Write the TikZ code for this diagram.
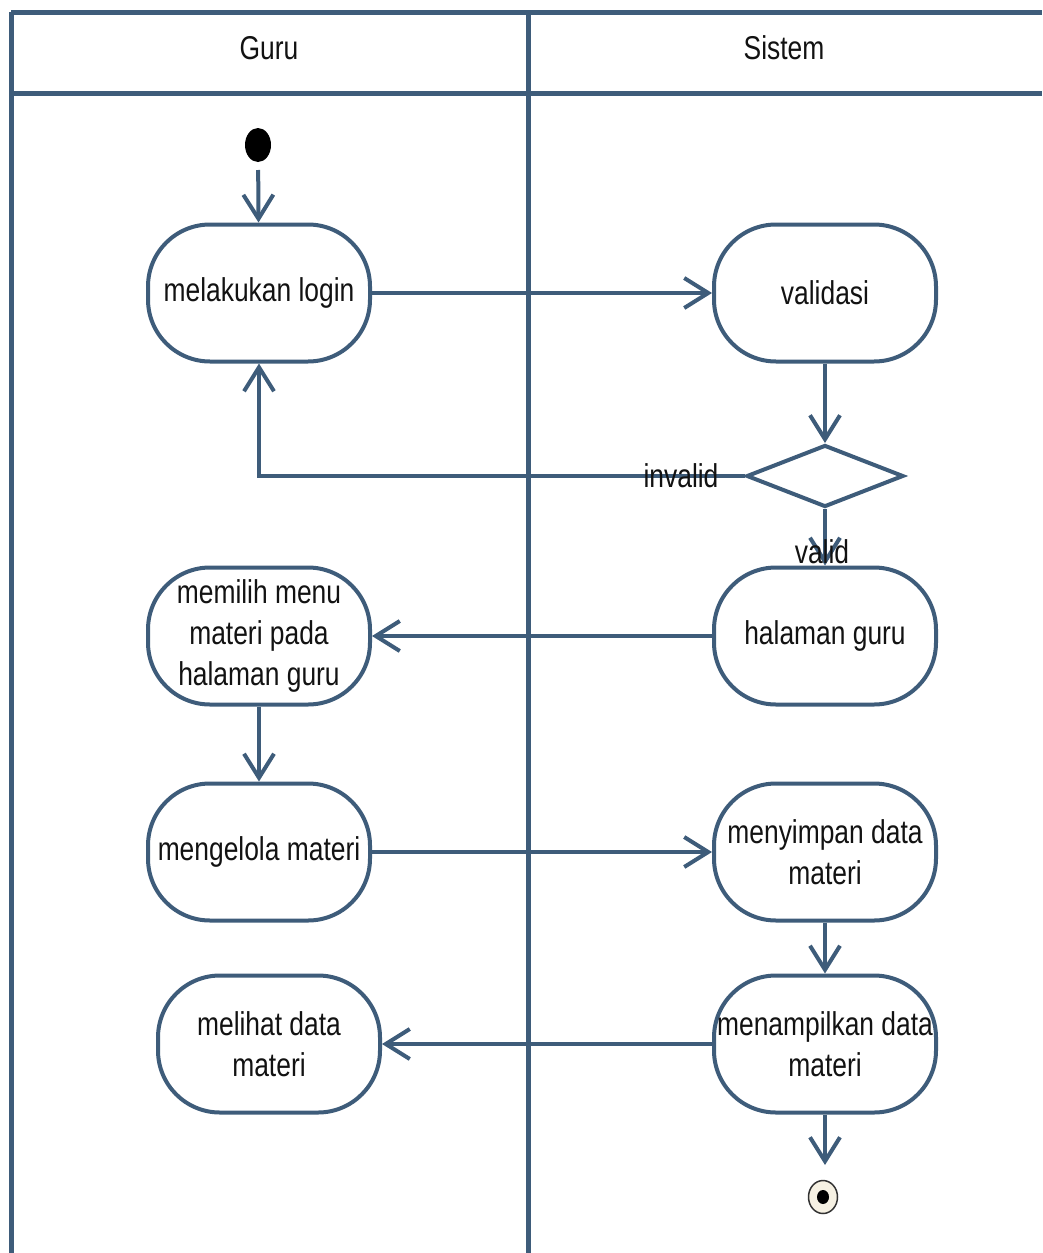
\documentclass[tikz,border=0pt]{standalone}
\usepackage{fontspec}
\setmainfont[FakeStretch=0.8]{Liberation Sans}
\usetikzlibrary{arrows.meta,shapes.geometric}
\definecolor{umlline}{RGB}{62,92,122}
\definecolor{umltext}{RGB}{18,18,18}
\definecolor{finalfill}{RGB}{246,241,227}
\begin{document}
\begin{tikzpicture}[x=1pt,y=-1pt,
  lane/.style={draw=umlline,line width=5pt},
  activity/.style={draw=umlline,line width=4pt,rounded corners=62pt,
    minimum width=222pt,minimum height=137pt,inner sep=0pt,align=center,
    text=umltext,font=\fontsize{33}{41}\selectfont},
  decision/.style={diamond,draw=umlline,line width=4pt,inner sep=0pt,
    minimum width=157pt,minimum height=62pt},
  flow/.style={draw=umlline,line width=4pt,
    -{Straight Barb[length=24pt,width=30pt,line width=4pt]}},
  label/.style={text=umltext,font=\fontsize{33}{41}\selectfont,inner sep=0pt},
  header/.style={text=umltext,font=\fontsize{33}{41}\selectfont,inner sep=0pt}]
\useasboundingbox (0,0) rectangle (1042,1253);

% swimlane frame
\draw[lane] (11,12) -- (1042,12);
\draw[lane] (11,93) -- (1042,93);
\draw[lane] (11,12) -- (11,1253);
\draw[lane] (528,12) -- (528,1253);
\node[header] (laneGuru) at (269,48) {Guru};
\node[header] (laneSistem) at (784,48) {Sistem};

% start and end
\node[ellipse,fill=black,minimum width=26pt,minimum height=34pt,inner sep=0pt,
  outer sep=8pt] (start) at (258,145) {};
\node[ellipse,draw=black!80,line width=1.5pt,fill=finalfill,minimum width=29pt,
  minimum height=33pt,inner sep=0pt] (final) at (823,1197) {};
\fill[black] (final.center) ellipse (6pt and 7pt);
\coordinate (finalIn) at (825,1165);

% activities
\node[activity] (login) at (259,293) {melakukan login};
\node[activity] (validasi) at (825,293) {validasi};
\node[decision] (cek) at (825,476) {};
\node[activity] (halaman) at (825,636) {halaman guru};
\node[activity] (menu) at (259,636) {memilih menu\\materi pada\\halaman guru};
\node[activity] (kelola) at (259,852) {mengelola materi};
\node[activity] (simpan) at (825,852) {menyimpan data\\materi};
\node[activity] (tampil) at (825,1044) {menampilkan data\\materi};
\node[activity] (lihat) at (269,1044) {melihat data\\materi};

% control flow
\draw[flow] (start) -- (login);
\draw[flow] (login) -- (validasi);
\draw[flow] (validasi) -- (cek.north);
\draw[flow] (cek.west) -| (login.south);
\draw[flow] (cek.south) -- (halaman.north);
\draw[flow] (halaman) -- (menu);
\draw[flow] (menu) -- (kelola);
\draw[flow] (kelola) -- (simpan);
\draw[flow] (simpan) -- (tampil);
\draw[flow] (tampil) -- (lihat);
\draw[flow] (tampil.south) -- (finalIn);

% guard labels
\node[label] (lblInvalid) at (681,476) {invalid};
\node[label] (lblValid) at (822,552) {valid};
\end{tikzpicture}
\end{document}
